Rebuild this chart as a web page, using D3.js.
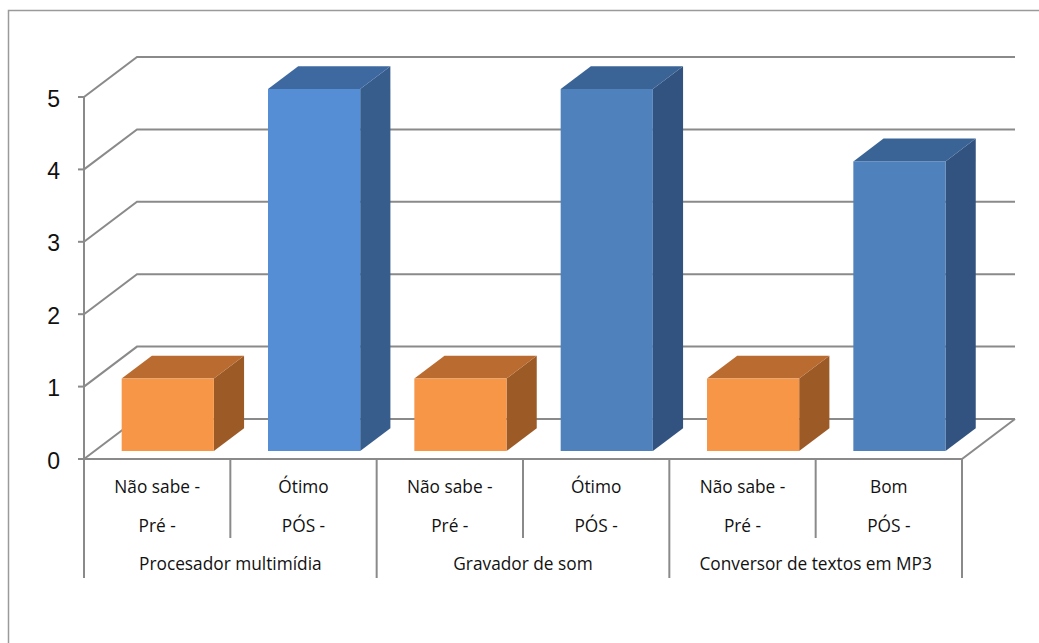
<!DOCTYPE html>
<html>
<head>
<meta charset="utf-8">
<script src="https://cdn.jsdelivr.net/npm/d3@7"></script>
<style>
  html, body { margin: 0; padding: 0; background: #fff; }
  svg { display: block; }
</style>
</head>
<body>
<svg id="chart" width="1039" height="643"></svg>
<script>
// Tool evaluations before ("Pré") and after ("PÓS") training, per tool
const groups = ["Procesador multimídia", "Gravador de som", "Conversor de textos em MP3"];
const answers = ["Não sabe -", "Ótimo", "Não sabe -", "Ótimo", "Não sabe -", "Bom"];
const phases = ["Pré -", "PÓS -", "Pré -", "PÓS -", "Pré -", "PÓS -"];
const values = [1, 5, 1, 5, 1, 4];
const yTicks = [0, 1, 2, 3, 4, 5];

// face colours (front, top, side) per bar
const frontColors = ["#F79646", "#558ED5", "#F79646", "#4F81BD", "#F79646", "#4F81BD"];
const topColors   = ["#B96B30", "#3E69A0", "#B96B30", "#3B6496", "#B96B30", "#3B6496"];
const sideColors  = ["#9C5A27", "#375D8C", "#9C5A27", "#32537F", "#9C5A27", "#32537F"];

(function () {
const svg = d3.select("#chart");
const gray = "#8a8a8a";

// plot geometry
const plotLeft = 84, plotRight = 962, plotBottom = 459, plotTop = 97;
const depthX = 53, depthY = 40;           // oblique offset of the back wall
const barDepth0 = 0.2, barDepth1 = 0.77;  // bar slab within the depth

const x = d3.scaleBand().domain(d3.range(values.length)).range([plotLeft, plotRight]).padding(0);
const y = d3.scaleLinear().domain([0, 5]).range([plotBottom, plotTop]);
const dx = d => d * depthX;
const dy = d => -d * depthY;

// outer frame
svg.append("rect")
  .attr("x", 8.5).attr("y", 10.5).attr("width", 1100).attr("height", 700)
  .attr("fill", "none").attr("stroke", "#9a9a9a").attr("stroke-width", 1.5);

const grid = svg.append("g")
  .attr("fill", "none").attr("stroke", gray).attr("stroke-width", 2);

// side wall diagonals and back wall gridlines
yTicks.forEach(t => {
  const yy = y(t);
  grid.append("path")
    .attr("d", `M${plotLeft},${yy}L${plotLeft + dx(1)},${yy + dy(1)}L${plotRight + dx(1)},${yy + dy(1)}`);
});
// floor: front edge and right diagonal
grid.append("path")
  .attr("d", `M${plotLeft},${plotBottom}L${plotRight},${plotBottom}L${plotRight + dx(1)},${plotBottom + dy(1)}`);

// value axis with tick marks
grid.append("path").attr("d", `M${plotLeft},${y(5)}L${plotLeft},${plotBottom}`);
yTicks.forEach(t => {
  grid.append("path").attr("d", `M${plotLeft - 6},${y(t)}L${plotLeft},${y(t)}`);
});

svg.append("g")
  .selectAll("text").data(yTicks).join("text")
  .attr("x", 60).attr("y", d => y(d) + 9.5)
  .attr("text-anchor", "end")
  .attr("font-family", "Liberation Sans, Arial, sans-serif")
  .attr("font-size", 23).attr("fill", "#111")
  .text(d => d);

// bars as oblique 3D blocks
const bw = x.bandwidth() * 0.63;
const bars = svg.append("g");
values.forEach((v, i) => {
  const cx = x(i) + x.bandwidth() / 2 + dx(barDepth0);
  const x0 = cx - bw / 2, x1 = cx + bw / 2;
  const yb = y(0) + dy(barDepth0), yt = y(v) + dy(barDepth0);
  const ox = dx(barDepth1 - barDepth0), oy = dy(barDepth1 - barDepth0);
  const g = bars.append("g");
  // side face
  g.append("path")
    .attr("d", `M${x1},${yt}L${x1 + ox},${yt + oy}L${x1 + ox},${yb + oy}L${x1},${yb}Z`)
    .attr("fill", sideColors[i]);
  // top face
  g.append("path")
    .attr("d", `M${x0},${yt}L${x0 + ox},${yt + oy}L${x1 + ox},${yt + oy}L${x1},${yt}Z`)
    .attr("fill", topColors[i]);
  // front face
  g.append("rect")
    .attr("x", x0).attr("y", yt).attr("width", bw).attr("height", yb - yt)
    .attr("fill", frontColors[i]);
});

// category axis: label table with separators
const sep = svg.append("g").attr("stroke", gray).attr("stroke-width", 2).attr("fill", "none");
d3.range(values.length + 1).forEach(k => {
  const xx = k < values.length ? x(k) : plotRight;
  const long = k % 2 === 0;
  sep.append("path").attr("d", `M${xx},${plotBottom}L${xx},${long ? 578 : 538}`);
});

const labelFont = "Open Sans, Noto Sans, sans-serif";
const labels = svg.append("g")
  .attr("font-family", labelFont).attr("font-size", 17.3).attr("fill", "#111")
  .attr("text-anchor", "middle");
labels.selectAll("text.answer").data(answers).join("text")
  .attr("class", "answer")
  .attr("x", (d, i) => x(i) + x.bandwidth() / 2).attr("y", 493)
  .text(d => d);
labels.selectAll("text.phase").data(phases).join("text")
  .attr("class", "phase")
  .attr("x", (d, i) => x(i) + x.bandwidth() / 2).attr("y", 532)
  .text(d => d);
labels.selectAll("text.group").data(groups).join("text")
  .attr("class", "group")
  .attr("x", (d, i) => x(2 * i) + x.bandwidth()).attr("y", 570)
  .text(d => d);
})();
</script>
</body>
</html>
